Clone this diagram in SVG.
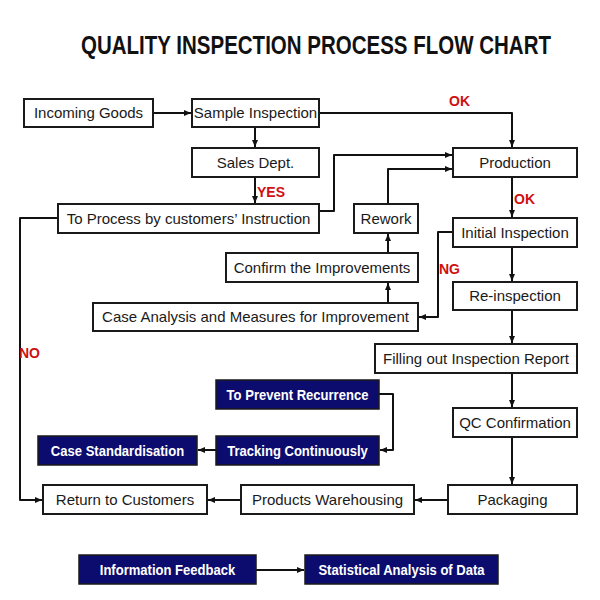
<svg xmlns="http://www.w3.org/2000/svg" width="600" height="600" viewBox="0 0 600 600">
<defs>
<marker id="ah" markerUnits="userSpaceOnUse" markerWidth="8" markerHeight="8" refX="7" refY="4" orient="auto">
<path d="M0,1 L7,4 L0,7 Z" fill="#111"/>
</marker>
<style>
.box{fill:#fff;stroke:#1a1a1a;stroke-width:2}
.dark{fill:#0c0c6e;stroke:#1a1a1a;stroke-width:1.5}
.t{font-family:"Liberation Sans",Arial,sans-serif;font-size:15px;fill:#1a1a1a;text-anchor:middle}
.w{font-family:"Liberation Sans",Arial,sans-serif;font-size:15px;font-weight:bold;fill:#fff;text-anchor:middle}
.lab{font-family:"Liberation Sans",Arial,sans-serif;font-size:14px;font-weight:bold;fill:#d01010}
.c{fill:none;stroke:#111;stroke-width:2;stroke-linejoin:round}
</style>
</defs>
<rect width="600" height="600" fill="#fff"/>
<text transform="translate(316,54) scale(0.82,1)" x="0" y="0" font-family="'Liberation Sans',Arial,sans-serif" font-weight="bold" font-size="25" fill="#111" text-anchor="middle">QUALITY INSPECTION PROCESS FLOW CHART</text>

<g id="connectors">
<path class="c" d="M153,113 H191" marker-end="url(#ah)"/>
<path class="c" d="M255,127 V147" marker-end="url(#ah)"/>
<path class="c" d="M319,113 H512 V147" marker-end="url(#ah)"/>
<path class="c" d="M255,177 V203" marker-end="url(#ah)"/>
<path class="c" d="M319,211 H334 V155 H452" marker-end="url(#ah)"/>
<path class="c" d="M388,204 V169 H452" marker-end="url(#ah)"/>
<path class="c" d="M388,253 V234" marker-end="url(#ah)"/>
<path class="c" d="M388,303 V283" marker-end="url(#ah)"/>
<path class="c" d="M453,232 H438 V317 H419" marker-end="url(#ah)"/>
<path class="c" d="M512,177 V217" marker-end="url(#ah)"/>
<path class="c" d="M512,247 V281" marker-end="url(#ah)"/>
<path class="c" d="M512,310 V343" marker-end="url(#ah)"/>
<path class="c" d="M512,373 V407" marker-end="url(#ah)"/>
<path class="c" d="M512,437 V484" marker-end="url(#ah)"/>
<path class="c" d="M448,500 H415" marker-end="url(#ah)"/>
<path class="c" d="M241,500 H208" marker-end="url(#ah)"/>
<path class="c" d="M58,218 H20 V500 H42" marker-end="url(#ah)"/>
<path class="c" d="M379,394 H393 V450 H380" marker-end="url(#ah)"/>
<path class="c" d="M216,450 H198" marker-end="url(#ah)"/>
<path class="c" d="M256,570 H304" marker-end="url(#ah)"/>
<text class="lab" x="449" y="106">OK</text>
<text class="lab" x="257" y="197">YES</text>
<text class="lab" x="514" y="204">OK</text>
<text class="lab" x="439" y="274">NG</text>
<text class="lab" x="19" y="358">NO</text>
</g>

<g id="incoming-goods"><rect class="box" x="24" y="99" width="129" height="28"/><text class="t" x="88.5" y="118">Incoming Goods</text></g>
<g id="sample-inspection"><rect class="box" x="192" y="99" width="127" height="28"/><text class="t" x="255.5" y="118">Sample Inspection</text></g>
<g id="sales-dept"><rect class="box" x="192" y="148" width="127" height="29"/><text class="t" x="255.5" y="168">Sales Dept.</text></g>
<g id="to-process"><rect class="box" x="58" y="204" width="261" height="29"/><text class="t" x="188.5" y="224">To Process by customers’ Instruction</text></g>
<g id="rework"><rect class="box" x="354" y="204" width="64" height="29"/><text class="t" x="386" y="224">Rework</text></g>
<g id="confirm"><rect class="box" x="226" y="253" width="192" height="29"/><text class="t" x="322" y="273">Confirm the Improvements</text></g>
<g id="case-analysis"><rect class="box" x="93" y="303" width="325" height="28"/><text class="t" x="255.5" y="322">Case Analysis and Measures for Improvement</text></g>
<g id="production"><rect class="box" x="453" y="148" width="124" height="29"/><text class="t" x="515" y="168">Production</text></g>
<g id="initial-inspection"><rect class="box" x="453" y="218" width="124" height="29"/><text class="t" x="515" y="238">Initial Inspection</text></g>
<g id="re-inspection"><rect class="box" x="453" y="282" width="124" height="28"/><text class="t" x="515" y="301">Re-inspection</text></g>
<g id="filling-report"><rect class="box" x="375" y="344" width="202" height="29"/><text class="t" x="476" y="364">Filling out Inspection Report</text></g>
<g id="qc-confirmation"><rect class="box" x="453" y="408" width="124" height="29"/><text class="t" x="515" y="428">QC Confirmation</text></g>
<g id="packaging"><rect class="box" x="448" y="485" width="129" height="29"/><text class="t" x="512.5" y="505">Packaging</text></g>
<g id="products-warehousing"><rect class="box" x="241" y="485" width="173" height="29"/><text class="t" x="327.5" y="505">Products Warehousing</text></g>
<g id="return-customers"><rect class="box" x="43" y="485" width="164" height="29"/><text class="t" x="125" y="505">Return to Customers</text></g>
<g id="prevent-recurrence"><rect class="dark" x="216" y="380" width="163" height="29"/><text class="w" transform="translate(297.5,400) scale(0.87,1)" x="0" y="0">To Prevent Recurrence</text></g>
<g id="tracking"><rect class="dark" x="216" y="436" width="163" height="29"/><text class="w" transform="translate(297.5,456) scale(0.87,1)" x="0" y="0">Tracking Continuously</text></g>
<g id="case-standardisation"><rect class="dark" x="38" y="436" width="159" height="29"/><text class="w" transform="translate(117.5,456) scale(0.87,1)" x="0" y="0">Case Standardisation</text></g>
<g id="information-feedback"><rect class="dark" x="79" y="555" width="177" height="29"/><text class="w" transform="translate(167.5,575) scale(0.87,1)" x="0" y="0">Information Feedback</text></g>
<g id="statistical-analysis"><rect class="dark" x="305" y="555" width="193" height="29"/><text class="w" transform="translate(401.5,575) scale(0.87,1)" x="0" y="0">Statistical Analysis of Data</text></g>
</svg>
